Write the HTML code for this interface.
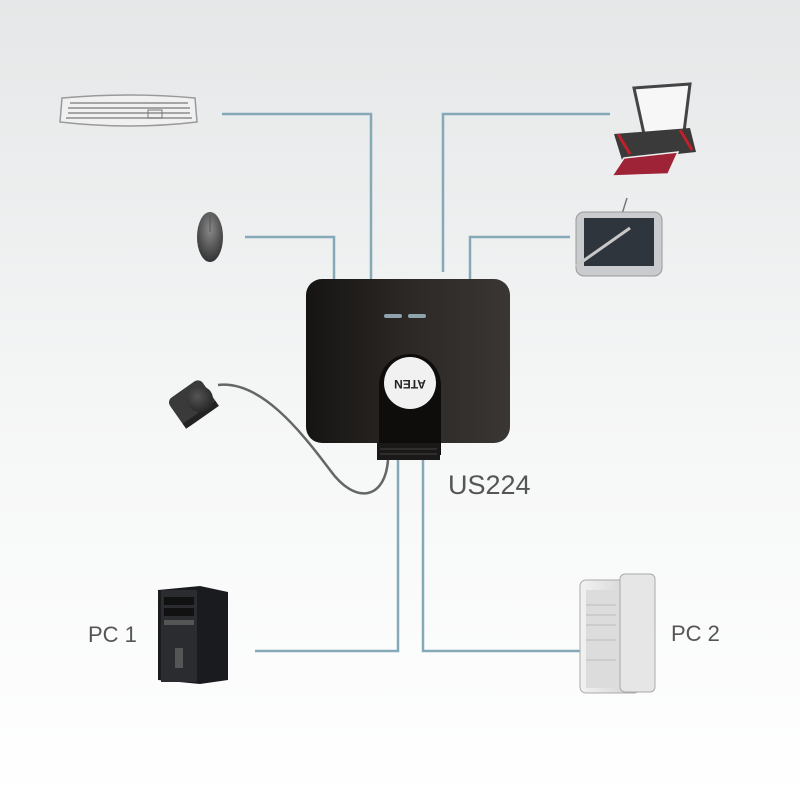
<!DOCTYPE html>
<html><head><meta charset="utf-8"><style>
html,body{margin:0;padding:0;width:800px;height:800px;overflow:hidden}
</style></head><body>
<svg width="800" height="800" viewBox="0 0 800 800" xmlns="http://www.w3.org/2000/svg">
<defs>
<linearGradient id="bg" x1="0" y1="0" x2="0" y2="1">
<stop offset="0" stop-color="#e5e7e8"/><stop offset="0.55" stop-color="#f6f7f7"/><stop offset="1" stop-color="#ffffff"/>
</linearGradient>
<linearGradient id="body" x1="0" y1="0" x2="1" y2="0">
<stop offset="0" stop-color="#161412"/><stop offset="0.5" stop-color="#2b2826"/><stop offset="1" stop-color="#3a3634"/>
</linearGradient>
<linearGradient id="pc2" x1="0" y1="0" x2="1" y2="0">
<stop offset="0" stop-color="#f2f2f2"/><stop offset="1" stop-color="#cfd0d2"/>
</linearGradient>
<radialGradient id="btn" cx="0.4" cy="0.4" r="0.6"><stop offset="0" stop-color="#555"/><stop offset="1" stop-color="#2a2a2a"/></radialGradient>
<radialGradient id="mouse" cx="0.5" cy="0.35" r="0.7"><stop offset="0" stop-color="#8a8a8a"/><stop offset="1" stop-color="#2c2c2c"/></radialGradient>
</defs>
<rect width="800" height="800" fill="url(#bg)"/>

<g fill="none" stroke="#86a9b8" stroke-width="2.5">
<polyline points="222,114 371,114 371,279"/>
<polyline points="245,237 334,237 334,279"/>
<polyline points="610,114 443,114 443,272"/>
<polyline points="570,237 470,237 470,279"/>
<polyline points="398,460 398,651 255,651"/>
<polyline points="423,460 423,651 580,651"/>
</g>

<path d="M218,385 C260,380 300,430 330,470 C355,505 385,500 388,460" fill="none" stroke="#666" stroke-width="2.5"/>
<g transform="rotate(-35 193 402)">
<rect x="172" y="386" width="40" height="34" rx="6" fill="#3a3a3a"/>
<rect x="172" y="414" width="40" height="6" fill="#222"/>
</g>
<circle cx="200" cy="399" r="13" fill="url(#btn)"/>

<rect x="306" y="279" width="204" height="164" rx="16" fill="url(#body)"/>
<rect x="384" y="314" width="18" height="4" rx="2" fill="#8ea3ad"/>
<rect x="408" y="314" width="18" height="4" rx="2" fill="#8ea3ad"/>
<path d="M379,455 L379,385 A31,31 0 0 1 441,385 L441,455 Z" fill="#0e0d0c"/>
<rect x="377" y="443" width="63" height="17" fill="#1a1918"/>
<line x1="380" y1="449" x2="437" y2="449" stroke="#444" stroke-width="1"/>
<line x1="380" y1="454" x2="437" y2="454" stroke="#444" stroke-width="1"/>
<circle cx="410" cy="383" r="26" fill="#f1f1f1"/>
<text x="410" y="388" font-family="Liberation Sans, sans-serif" font-size="12" font-weight="bold" fill="#222" text-anchor="middle" transform="rotate(180 410 384)">ATEN</text>

<!-- keyboard -->
<path d="M62,98 Q130,92 195,98 L197,122 Q130,130 60,122 Z" fill="#f0f0f0" stroke="#9a9a9a" stroke-width="1.5"/>
<g stroke="#8c8c8c" stroke-width="1.5">
<line x1="70" y1="103" x2="188" y2="103"/><line x1="68" y1="108" x2="190" y2="108"/><line x1="68" y1="113" x2="190" y2="113"/><line x1="66" y1="118" x2="192" y2="118"/>
</g>
<rect x="148" y="110" width="14" height="8" fill="none" stroke="#777"/>

<!-- mouse -->
<ellipse cx="210" cy="237" rx="13" ry="25" fill="url(#mouse)"/>
<line x1="210" y1="215" x2="210" y2="232" stroke="#555" stroke-width="1"/>

<!-- printer -->
<path d="M634,88 L690,84 L684,132 L644,134 Z" fill="#f7f7f7" stroke="#444" stroke-width="3"/>
<path d="M614,134 L690,128 L696,152 L622,160 Z" fill="#3a3a3a"/>
<path d="M618,134 L630,154" stroke="#c0202a" stroke-width="3"/>
<path d="M680,130 L692,150" stroke="#c0202a" stroke-width="3"/>
<path d="M624,158 L678,152 L668,174 L612,176 Z" fill="#9f2336" stroke="#eee" stroke-width="1.5"/>

<!-- tablet -->
<line x1="627" y1="198" x2="622" y2="214" stroke="#777" stroke-width="1.5"/>
<rect x="576" y="212" width="86" height="64" rx="8" fill="#c9cbcf" stroke="#999"/>
<rect x="584" y="218" width="70" height="48" fill="#2e353c"/>
<line x1="576" y1="266" x2="630" y2="228" stroke="#c8c8c8" stroke-width="3"/>

<!-- PC1 -->
<polygon points="158,590 200,586 228,592 228,680 200,684 158,680" fill="#1a1b1e"/>
<rect x="161" y="590" width="36" height="92" fill="#2a2c30"/>
<rect x="164" y="597" width="30" height="8" fill="#111"/>
<rect x="164" y="608" width="30" height="8" fill="#111"/>
<rect x="164" y="620" width="30" height="5" fill="#555"/>
<rect x="175" y="648" width="8" height="20" fill="#555"/>

<!-- PC2 -->
<rect x="580" y="580" width="60" height="113" rx="6" fill="url(#pc2)" stroke="#aaa"/>
<rect x="620" y="574" width="35" height="118" rx="5" fill="#e6e6e7" stroke="#aaa"/>
<rect x="586" y="590" width="30" height="98" fill="#dcdcdc"/>
<g stroke="#bcbcbc" stroke-width="1">
<line x1="586" y1="605" x2="616" y2="605"/><line x1="586" y1="615" x2="616" y2="615"/><line x1="586" y1="625" x2="616" y2="625"/><line x1="586" y1="640" x2="616" y2="640"/><line x1="586" y1="660" x2="616" y2="660"/>
</g>

<g font-family="Liberation Sans, sans-serif" fill="#555">
<text x="448" y="494" font-size="27">US224</text>
<text x="88" y="642" font-size="22">PC 1</text>
<text x="671" y="641" font-size="22">PC 2</text>
</g>
</svg>
</body></html>
